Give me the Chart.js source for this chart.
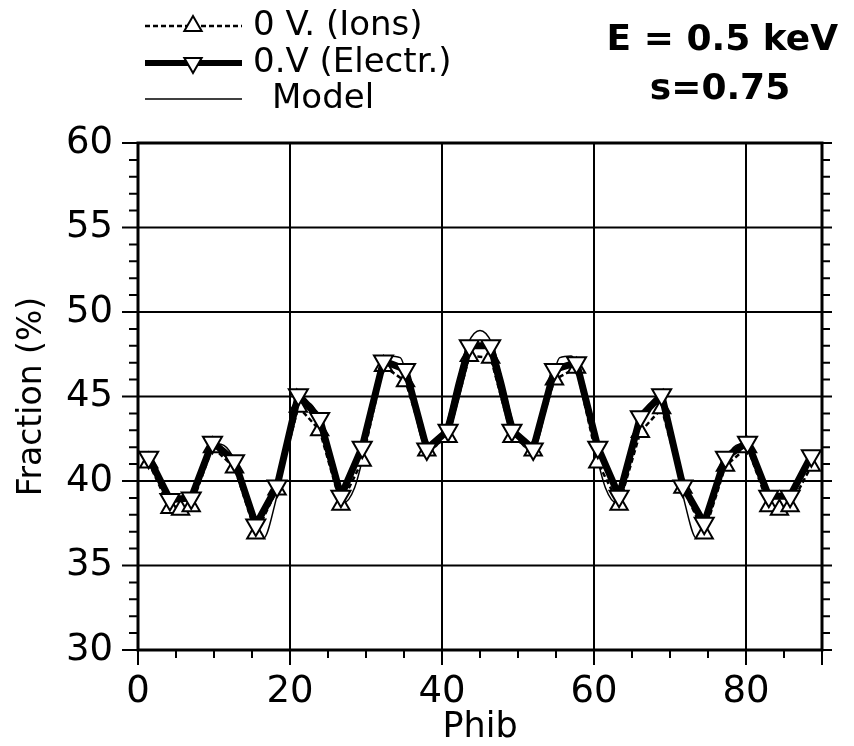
<!DOCTYPE html>
<html>
<head>
<meta charset="utf-8">
<script src="https://cdn.jsdelivr.net/npm/chart.js@4.4.1/dist/chart.umd.min.js"></script>
<style>
html,body{margin:0;padding:0;background:#fff;}
#wrap{width:854px;height:746px;}
</style>
</head>
<body>
<div id="wrap"><canvas id="c" width="854" height="746"></canvas></div>
<script>
// ---- data ----
const phibElectr = [1.4, 4.2, 7.0, 9.8, 12.7, 15.5, 18.3, 21.1, 23.9, 26.7, 29.5, 32.3, 35.2, 38.0, 40.8, 43.6,
                    46.4, 49.2, 52.0, 54.8, 57.7, 60.5, 63.3, 66.1, 68.9, 71.7, 74.5, 77.3, 80.2, 83.0, 85.8, 88.6];
const electrons  = [41.4, 38.9, 39.0, 42.3, 41.2, 37.4, 39.7, 45.1, 43.7, 39.1, 42.0, 47.1, 46.6, 41.9, 43.0, 48.0,
                    48.0, 43.0, 41.9, 46.6, 47.0, 42.0, 39.1, 43.8, 45.1, 39.7, 37.5, 41.4, 42.3, 39.1, 39.1, 41.5];
const phibIons   = [1.4, 4.2, 5.6, 7.0, 9.8, 12.7, 15.5, 18.3, 21.1, 23.9, 26.7, 29.5, 32.3, 35.2, 38.0, 40.8, 43.6,
                    46.4, 49.2, 52.0, 54.8, 57.7, 60.5, 63.3, 66.1, 68.9, 71.7, 74.5, 77.3, 80.2, 83.0, 84.4, 85.8, 88.6];
const ions       = [41.1, 38.4, 38.3, 38.5, 42.0, 40.8, 36.9, 39.5, 44.4, 43.0, 38.6, 41.2, 46.8, 45.9, 41.8, 42.6, 47.4,
                    47.3, 42.6, 41.8, 46.0, 46.7, 41.1, 38.6, 42.9, 44.3, 39.6, 36.9, 40.9, 42.0, 38.5, 38.3, 38.5, 40.9];
const phibModel  = [0, 1.5, 3, 4.5, 6, 7.5, 9, 10.5, 12, 13.5, 15, 16.5, 18, 19.5, 21, 22.5, 24, 25.5, 27, 28.5, 30,
                    31.5, 33, 34.5, 36, 37.5, 39, 40.5, 42, 43.5, 45, 46.5, 48, 49.5, 51, 52.5, 54, 55.5, 57, 58.5, 60,
                    61.5, 63, 64.5, 66, 67.5, 69, 70.5, 72, 73.5, 75, 76.5, 78, 79.5, 81, 82.5, 84, 85.5, 87, 88.5, 90];
const model      = [41.8, 41.3, 40.0, 38.7, 38.3, 39.3, 41.3, 42.2, 41.8, 40.3, 37.8, 36.6, 38.6, 41.8, 44.2, 44.6,
                    43.5, 41.0, 38.7, 39.6, 42.2, 45.6, 47.4, 47.3, 45.0, 42.3, 42.0, 43.3, 46.0, 48.2, 48.9,
                    48.2, 46.0, 43.3, 42.0, 42.3, 45.0, 47.3, 47.4, 45.6, 42.2, 39.6, 38.7, 41.0, 43.5, 44.6,
                    44.2, 41.8, 38.6, 36.6, 37.8, 40.3, 41.8, 42.2, 41.3, 39.3, 38.3, 38.7, 40.0, 41.3, 41.8];
const xTicks = [0, 20, 40, 60, 80];
const yTicks = [30, 35, 40, 45, 50, 55, 60];
const legendLabels = ['0 V. (Ions)', '0.V (Electr.)', 'Model'];
const titleLines = ['E = 0.5 keV', 's=0.75'];

const pts = (xs, ys) => xs.map((x, i) => ({x: x, y: ys[i]}));
const FONT = "'DejaVu Sans', sans-serif";

function tri(ctx, x, y, r, down) {
  ctx.beginPath();
  const s = down ? -1 : 1;
  ctx.moveTo(x, y - s * r);
  ctx.lineTo(x + r * Math.sqrt(3) / 2, y + s * r / 2);
  ctx.lineTo(x - r * Math.sqrt(3) / 2, y + s * r / 2);
  ctx.closePath();
  ctx.fillStyle = '#fff'; ctx.fill();
  ctx.lineWidth = 2; ctx.strokeStyle = '#000'; ctx.stroke();
}

const framePlugin = {
  id: 'frame',
  beforeDatasetsDraw(chart) {
    const {ctx, chartArea: a, scales: {x, y}} = chart;
    ctx.save();
    ctx.strokeStyle = '#000';
    ctx.lineWidth = 2;
    ctx.beginPath();
    yTicks.forEach(v => { if (v > 30 && v < 60) { const p = y.getPixelForValue(v); ctx.moveTo(a.left, p); ctx.lineTo(a.right, p); } });
    xTicks.forEach(v => { if (v > 0) { const p = x.getPixelForValue(v); ctx.moveTo(p, a.top); ctx.lineTo(p, a.bottom); } });
    ctx.stroke();
    ctx.restore();
  },
  afterDatasetsDraw(chart) {
    const {ctx, chartArea: a, scales: {x, y}} = chart;
    ctx.save();
    ctx.strokeStyle = '#000';
    ctx.lineWidth = 3;
    ctx.strokeRect(a.left, a.top, a.right - a.left, a.bottom - a.top);
    ctx.lineWidth = 2;
    ctx.beginPath();
    for (let v = 30; v <= 60; v += 1) {
      const p = y.getPixelForValue(v);
      const major = v % 5 === 0;
      ctx.moveTo(a.left - (major ? 16 : 9), p); ctx.lineTo(a.left, p);
      ctx.moveTo(a.right, p); ctx.lineTo(a.right + (major ? 10 : 8), p);
    }
    for (let v = 0; v <= 90; v += 5) {
      const p = x.getPixelForValue(v);
      const major = v % 20 === 0 || v === 90;
      ctx.moveTo(p, a.bottom); ctx.lineTo(p, a.bottom + (major ? 15 : 8));
    }
    ctx.stroke();
    ctx.restore();
  },
  afterDraw(chart) {
    const ctx = chart.ctx;
    ctx.save();
    // legend
    const lx0 = 145, lx1 = 242, mx = 193;
    const rows = [26, 63, 99];
    ctx.strokeStyle = '#000';
    ctx.lineWidth = 2.5; ctx.setLineDash([5, 3]);
    ctx.beginPath(); ctx.moveTo(lx0, rows[0]); ctx.lineTo(lx1, rows[0]); ctx.stroke();
    ctx.setLineDash([]);
    tri(ctx, mx, rows[0], 10, false);
    ctx.lineWidth = 6;
    ctx.beginPath(); ctx.moveTo(lx0, rows[1]); ctx.lineTo(lx1, rows[1]); ctx.stroke();
    tri(ctx, mx, rows[1], 10, true);
    ctx.lineWidth = 1.5;
    ctx.beginPath(); ctx.moveTo(lx0, rows[2]); ctx.lineTo(lx1, rows[2]); ctx.stroke();
    ctx.fillStyle = '#000';
    ctx.font = "34px " + FONT;
    ctx.textBaseline = 'middle';
    ctx.textAlign = 'left';
    ctx.fillText(legendLabels[0], 253, rows[0]);
    ctx.fillText(legendLabels[1], 253, rows[1]);
    ctx.fillText(legendLabels[2], 272, rows[2]);
    // title
    ctx.font = "bold 36px " + FONT;
    ctx.textAlign = 'right';
    ctx.fillText(titleLines[0], 838, 41);
    ctx.textAlign = 'center';
    ctx.fillText(titleLines[1], 720, 90);
    ctx.restore();
  }
};

new Chart(document.getElementById('c'), {
  type: 'scatter',
  data: {
    datasets: [
      {
        label: legendLabels[0], data: pts(phibIons, ions), showLine: true,
        borderColor: '#000', borderWidth: 2.5, borderDash: [5, 3],
        pointStyle: 'triangle', pointRadius: 10, pointBorderWidth: 2,
        pointBackgroundColor: '#fff', pointBorderColor: '#000', order: 2
      },
      {
        label: legendLabels[1], data: pts(phibElectr, electrons), showLine: true,
        borderColor: '#000', borderWidth: 7,
        pointStyle: 'triangle', pointRotation: 180, pointRadius: 11, pointBorderWidth: 2,
        pointBackgroundColor: '#fff', pointBorderColor: '#000', order: 1
      },
      {
        label: legendLabels[2], data: pts(phibModel, model), showLine: true,
        borderColor: '#000', borderWidth: 1.5, pointRadius: 0, tension: 0.4,
        cubicInterpolationMode: 'monotone', order: 3
      }
    ]
  },
  options: {
    responsive: false, animation: false, devicePixelRatio: 1,
    layout: {padding: {top: 143, right: 32, left: 0, bottom: 0}},
    plugins: {legend: {display: false}, tooltip: {enabled: false}, title: {display: false}},
    scales: {
      x: {
        type: 'linear', min: 0, max: 90,
        grid: {display: false, drawTicks: false}, border: {display: false},
        afterBuildTicks: s => { s.ticks = xTicks.map(v => ({value: v})); },
        afterFit: s => { s.height = 96; },
        ticks: {color: '#000', font: {family: FONT, size: 37}, padding: 20, maxRotation: 0, autoSkip: false},
        title: {display: true, text: 'Phib', color: '#000', font: {family: FONT, size: 35}, padding: {top: 0, bottom: -3}}
      },
      y: {
        type: 'linear', min: 30, max: 60,
        grid: {display: false, drawTicks: false}, border: {display: false},
        afterBuildTicks: s => { s.ticks = yTicks.map(v => ({value: v})); },
        afterFit: s => { s.width = 138; },
        ticks: {color: '#000', font: {family: FONT, size: 37}, padding: 25, autoSkip: false},
        title: {display: true, text: 'Fraction (%)', color: '#000', font: {family: FONT, size: 33}, padding: {top: 13, bottom: 0}}
      }
    }
  },
  plugins: [framePlugin]
});
</script>
</body>
</html>
